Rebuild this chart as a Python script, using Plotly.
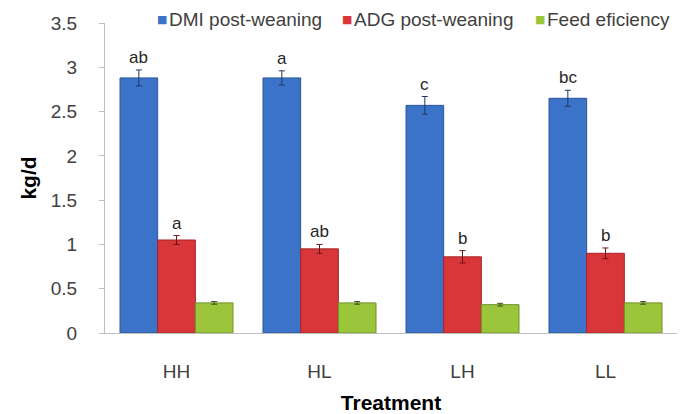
import plotly.graph_objects as go

# ---- data ----
treatments = ["HH", "HL", "LH", "LL"]
dmi = [2.88, 2.88, 2.57, 2.65]
dmi_err = [0.09, 0.08, 0.10, 0.09]
adg = [1.05, 0.95, 0.86, 0.90]
adg_err = [0.05, 0.05, 0.07, 0.06]
fe = [0.34, 0.34, 0.32, 0.34]
fe_err = [0.015, 0.015, 0.015, 0.015]
dmi_letters = ["ab", "a", "c", "bc"]
adg_letters = ["a", "ab", "b", "b"]
series_names = ["DMI post-weaning", "ADG post-weaning", "Feed eficiency"]

BARGAP = 0.21
bar_w = (1 - BARGAP) / 3
FONT = "Arial, Liberation Sans"

fig = go.Figure()
styles = [
    ("#3B73C8", "#2A5699", "#1F3864"),
    ("#D9363A", "#A52428", "#6B1416"),
    ("#9BC63C", "#6F9127", "#3F5216"),
]
for name, vals, errs, (fc, lc, ec) in zip(series_names, [dmi, adg, fe],
                                          [dmi_err, adg_err, fe_err], styles):
    fig.add_trace(go.Bar(
        name=name, x=treatments, y=vals, showlegend=False,
        marker=dict(color=fc, line=dict(color=lc, width=1)),
        error_y=dict(type="data", array=errs, color=ec, thickness=1, width=3),
    ))

annotations = []
for i in range(len(treatments)):
    for off, vals, errs, letters in [(-bar_w, dmi, dmi_err, dmi_letters),
                                     (0, adg, adg_err, adg_letters)]:
        annotations.append(dict(
            x=i + off, y=vals[i] + errs[i], xref="x", yref="y",
            text=letters[i], showarrow=False, yanchor="bottom", yshift=1,
            font=dict(family=FONT, size=17, color="#262626"),
        ))

# custom legend (pixel layout inside the 681x414 figure)
L, R, T, B = 105, 4, 23, 81
pw, ph = 681 - L - R, 414 - T - B
legend_pos = [162, 347, 540]   # marker centres in px
leg_y = 1 + (T - 20) / ph
for name, (fc, lc, ec), mx in zip(series_names, styles, legend_pos):
    annotations.append(dict(
        x=(mx - L) / pw, y=leg_y, xref="paper", yref="paper",
        text="■", showarrow=False, xanchor="center", yanchor="middle",
        font=dict(family="DejaVu Sans", size=11, color=fc)))
    annotations.append(dict(
        x=(mx + 5 - L) / pw, y=leg_y, xref="paper", yref="paper",
        text=name, showarrow=False, xanchor="left", yanchor="middle",
        font=dict(family=FONT, size=19, color="#404040")))

fig.update_layout(
    width=681, height=414,
    margin=dict(l=L, r=R, t=T, b=B),
    paper_bgcolor="white", plot_bgcolor="white",
    barmode="group", bargap=BARGAP, bargroupgap=0,
    font=dict(family=FONT, color="#404040"),
    annotations=annotations,
)
fig.update_yaxes(
    automargin=False,
    range=[0, 3.5], dtick=0.5, showgrid=False, zeroline=False,
    showline=True, linecolor="#BFBFBF", linewidth=1,
    ticks="outside", ticklen=5, tickcolor="#BFBFBF",
    tickfont=dict(size=19, color="#404040"), ticklabelstandoff=18,
    title=dict(text="<b>kg/d</b>", font=dict(size=21, color="#000000"), standoff=8),
)
fig.update_xaxes(
    automargin=False,
    showgrid=False, showline=True, linecolor="#BFBFBF", linewidth=1,
    ticks="", tickfont=dict(size=19, color="#404040"), ticklabelstandoff=21,
    title=dict(text="<b>Treatment</b>", font=dict(size=21, color="#000000"), standoff=14),
)

fig.write_html("out.html", config={"displayModeBar": False},
               post_script="document.body.style.margin='0';document.body.style.overflow='hidden';")
